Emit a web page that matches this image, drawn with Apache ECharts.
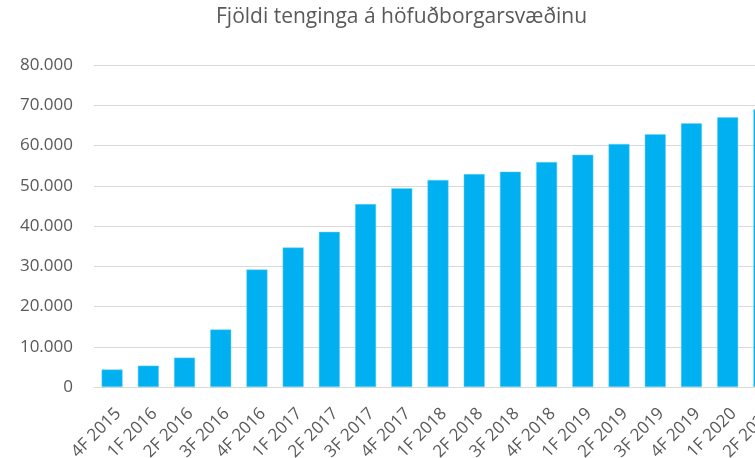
<!DOCTYPE html>
<html lang="is">
<head>
  <meta charset="UTF-8">
  <title>Fjöldi tenginga</title>
  <script src="https://cdn.jsdelivr.net/npm/echarts@6/dist/echarts.min.js"></script>
  <style>
    html, body { margin: 0; padding: 0; background: #fff; }
    #main { width: 755px; height: 458px; }
  </style>
</head>
<body>
<div id="main"></div>
<script>
  var titleText = 'Fjöldi tenginga á höfuðborgarsvæðinu'
  var quarters = ['4F 2015', '1F 2016', '2F 2016', '3F 2016', '4F 2016',
    '1F 2017', '2F 2017', '3F 2017', '4F 2017', '1F 2018', '2F 2018',
    '3F 2018', '4F 2018', '1F 2019', '2F 2019', '3F 2019', '4F 2019',
    '1F 2020', '2F 2020']
  var connections = [4350, 5300, 7300, 14300, 29200,
    34650, 38550, 45450, 49350, 51450, 52900,
    53500, 55900, 57700, 60400, 62800, 65500,
    67000, 69000]

  function fmt(v) {
    return String(v).replace(/\B(?=(\d{3})+(?!\d))/g, '.')
  }

  var textColor = '#595959'
  var font = 'Open Sans'

  // plot area runs past the right edge of the picture (last bar is cut)
  echarts.init(document.querySelector('#main')).setOption({
    animation: false,
    title: {
      text: titleText,
      left: 211,
      top: 2,
      textStyle: { color: textColor, fontSize: 21, fontWeight: 'normal', fontFamily: font }
    },
    grid: { left: 94, width: 688, top: 65, height: 322, outerBoundsMode: 'none', containLabel: false },
    xAxis: {
      type: 'category',
      data: quarters,
      axisLine: { lineStyle: { color: '#d9d9d9', width: 1 } },
      axisTick: { show: false },
      axisLabel: {
        rotate: 45, margin: 18, interval: 0,
        align: 'right', verticalAlign: 'top',
        color: textColor, fontSize: 17, fontFamily: font
      }
    },
    yAxis: {
      type: 'value',
      min: 0,
      max: 80000,
      interval: 10000,
      axisLine: { show: false },
      axisTick: { show: false },
      splitLine: { lineStyle: { color: '#d9d9d9', width: 1 } },
      axisLabel: { margin: 21, color: textColor, fontSize: 17, fontFamily: font, formatter: fmt }
    },
    series: [{
      type: 'bar',
      data: connections,
      barWidth: '58%',
      itemStyle: { color: '#00b0f0', borderColor: '#6fd3f7', borderWidth: 0.5 }
    }]
  })
</script>
</body>
</html>
